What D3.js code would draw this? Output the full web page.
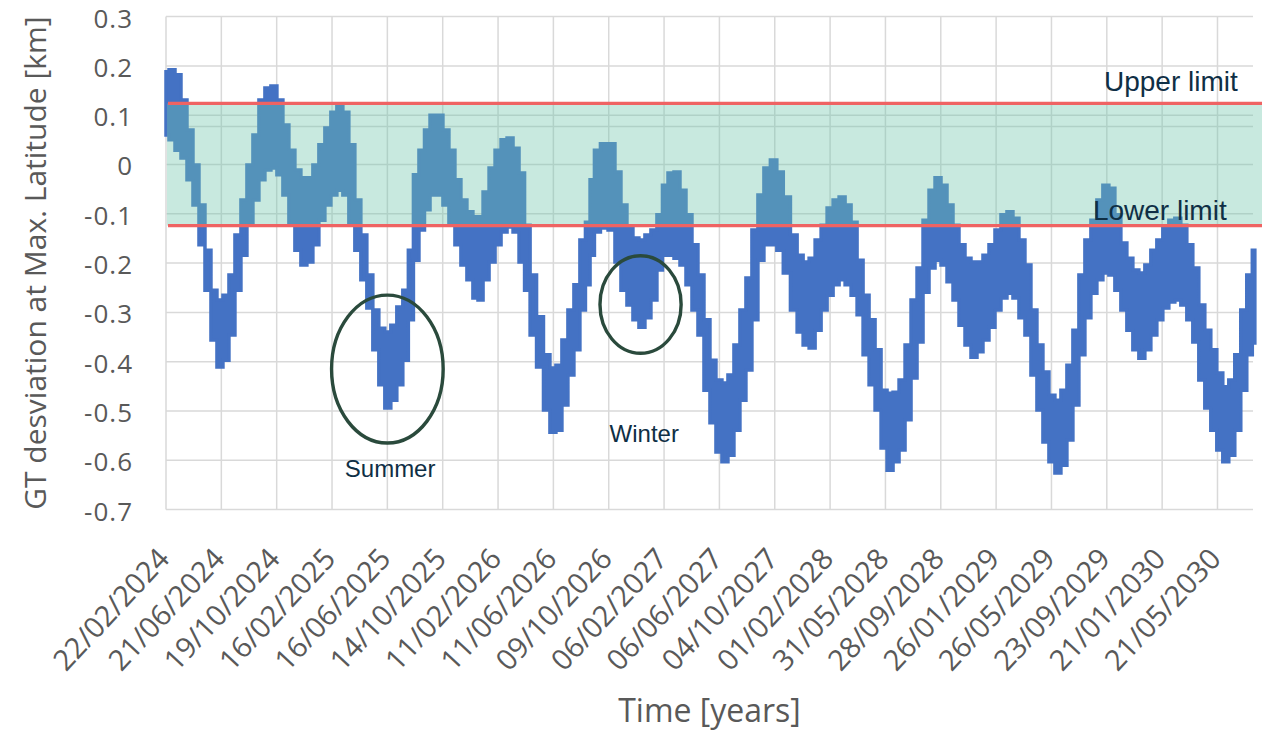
<!DOCTYPE html>
<html>
<head>
<meta charset="utf-8">
<script src="https://cdn.jsdelivr.net/npm/d3@7"></script>
<style>
  html, body { margin: 0; padding: 0; background: #ffffff; }
  svg { display: block; }
</style>
</head>
<body>
<svg id="chart" width="1265" height="730"></svg>
<script>
// ---- data -------------------------------------------------------------
// Axis date labels (every 120 days from the start of the simulation)
const dateLabels = [
  "22/02/2024", "21/06/2024", "19/10/2024", "16/02/2025", "16/06/2025",
  "14/10/2025", "11/02/2026", "11/06/2026", "09/10/2026", "06/02/2027",
  "06/06/2027", "04/10/2027", "01/02/2028", "31/05/2028", "28/09/2028",
  "26/01/2029", "26/05/2029", "23/09/2029", "21/01/2030", "21/05/2030"
];
const yTicks = [0.3, 0.2, 0.1, 0, -0.1, -0.2, -0.3, -0.4, -0.5, -0.6, -0.7];

// Allowed ground-track deviation and an auxiliary reference level [km]
const upperLimit = 0.124;
const lowerLimit = -0.124;
const auxLevel = 0.077;

// Last simulated day (days after the first date label)
const lastDay = 2357;

// GT deviation envelope: days after start, upper and lower extent [km]
const dayOffset = [
  0, 13, 26, 39, 52, 65, 78, 91, 104, 117, 130, 143, 156, 169, 182, 195, 208, 221, 234, 247,
  260, 273, 286, 299, 312, 325, 338, 351, 364, 377, 390, 403, 416, 429, 442, 455, 468, 481, 494, 507,
  520, 531, 542, 555, 566, 579, 594, 607, 620, 633, 646, 659, 672, 681, 694, 707, 720, 733, 746, 759,
  772, 783, 796, 811, 826, 839, 852, 865, 878, 891, 904, 915, 924, 934, 950, 967, 980, 993, 1006, 1019,
  1032, 1045, 1058, 1071, 1082, 1095, 1108, 1121, 1134, 1147, 1160, 1173, 1186, 1199, 1212, 1225, 1238, 1251, 1264, 1277,
  1290, 1303, 1318, 1331, 1346, 1362, 1375, 1388, 1401, 1414, 1427, 1440, 1453, 1466, 1479, 1492, 1505, 1518, 1531, 1544,
  1557, 1570, 1583, 1596, 1609, 1622, 1635, 1648, 1661, 1674, 1687, 1700, 1713, 1726, 1739, 1752, 1765, 1778, 1791, 1804,
  1817, 1830, 1843, 1856, 1869, 1882, 1895, 1908, 1921, 1934, 1947, 1960, 1973, 1986, 1999, 2012, 2025, 2038, 2051, 2064,
  2077, 2090, 2103, 2116, 2129, 2142, 2155, 2168, 2181, 2194, 2207, 2220, 2233, 2246, 2259, 2272, 2285, 2298, 2311, 2324,
  2337, 2350, 2361
];
const gtHigh = [
  0.188, 0.192, 0.182, 0.131, 0.070, -0.001, -0.082, -0.174, -0.255, -0.275, -0.265, -0.224, -0.143, -0.072, -0.001, 0.060, 0.131, 0.155, 0.159, 0.131,
  0.080, 0.029, -0.011, -0.027, -0.027, -0.001, 0.040, 0.074, 0.106, 0.117, 0.106, 0.040, -0.072, -0.143, -0.224, -0.295, -0.332, -0.340, -0.326, -0.289,
  -0.255, -0.174, -0.021, 0.029, 0.070, 0.100, 0.100, 0.070, 0.029, -0.031, -0.072, -0.096, -0.106, -0.106, -0.056, -0.007, 0.029, 0.050, 0.054, 0.033,
  -0.017, -0.123, -0.224, -0.309, -0.386, -0.413, -0.407, -0.356, -0.295, -0.244, -0.153, -0.117, -0.031, 0.029, 0.042, 0.042, -0.015, -0.082, -0.129, -0.149,
  -0.153, -0.143, -0.133, -0.102, -0.042, -0.017, -0.015, -0.052, -0.102, -0.163, -0.224, -0.315, -0.397, -0.437, -0.443, -0.427, -0.366, -0.295, -0.230, -0.133,
  -0.062, -0.007, 0.009, -0.015, -0.066, -0.143, -0.184, -0.198, -0.190, -0.153, -0.123, -0.088, -0.072, -0.066, -0.082, -0.117, -0.194, -0.265, -0.315, -0.376,
  -0.458, -0.464, -0.462, -0.437, -0.366, -0.275, -0.210, -0.113, -0.052, -0.027, -0.042, -0.082, -0.123, -0.163, -0.190, -0.198, -0.198, -0.184, -0.163, -0.133,
  -0.102, -0.096, -0.109, -0.153, -0.204, -0.295, -0.366, -0.421, -0.468, -0.478, -0.458, -0.407, -0.336, -0.224, -0.153, -0.113, -0.072, -0.042, -0.048, -0.102,
  -0.159, -0.190, -0.214, -0.220, -0.204, -0.174, -0.153, -0.129, -0.113, -0.109, -0.123, -0.163, -0.210, -0.285, -0.336, -0.376, -0.423, -0.451, -0.437, -0.386,
  -0.295, -0.224, -0.174
];
const gtLow = [
  0.060, 0.050, 0.029, 0.013, -0.031, -0.082, -0.163, -0.255, -0.356, -0.411, -0.397, -0.346, -0.255, -0.184, -0.123, -0.072, -0.031, -0.011, -0.007, -0.021,
  -0.062, -0.123, -0.174, -0.204, -0.198, -0.163, -0.113, -0.082, -0.062, -0.052, -0.062, -0.117, -0.174, -0.234, -0.291, -0.376, -0.447, -0.494, -0.478, -0.447,
  -0.397, -0.315, -0.194, -0.133, -0.092, -0.062, -0.062, -0.082, -0.123, -0.163, -0.204, -0.234, -0.271, -0.275, -0.234, -0.198, -0.163, -0.137, -0.127, -0.137,
  -0.198, -0.255, -0.346, -0.411, -0.498, -0.543, -0.539, -0.488, -0.427, -0.376, -0.295, -0.244, -0.184, -0.137, -0.129, -0.133, -0.198, -0.255, -0.285, -0.315,
  -0.330, -0.311, -0.275, -0.214, -0.184, -0.184, -0.190, -0.204, -0.244, -0.295, -0.346, -0.458, -0.524, -0.583, -0.603, -0.590, -0.539, -0.478, -0.417, -0.315,
  -0.194, -0.163, -0.163, -0.174, -0.220, -0.295, -0.340, -0.366, -0.372, -0.336, -0.295, -0.265, -0.244, -0.234, -0.244, -0.265, -0.305, -0.386, -0.447, -0.498,
  -0.575, -0.620, -0.603, -0.579, -0.518, -0.433, -0.360, -0.259, -0.210, -0.194, -0.204, -0.238, -0.275, -0.326, -0.366, -0.391, -0.380, -0.356, -0.330, -0.295,
  -0.271, -0.261, -0.271, -0.311, -0.346, -0.427, -0.498, -0.563, -0.603, -0.626, -0.610, -0.559, -0.488, -0.386, -0.311, -0.261, -0.234, -0.220, -0.224, -0.255,
  -0.295, -0.336, -0.376, -0.393, -0.376, -0.346, -0.315, -0.291, -0.279, -0.275, -0.285, -0.315, -0.360, -0.437, -0.494, -0.539, -0.579, -0.603, -0.590, -0.539,
  -0.458, -0.386, -0.362
];

// Seasonal call-outs: ellipse centre (day, km) and half-widths (days, km)
const seasonMarks = [
  { label: "Summer", day: 480, value: -0.415, rDays: 121, rKm: 0.150, labelDay: 486, labelValue: -0.633 },
  { label: "Winter", day: 1029, value: -0.284, rDays: 88, rKm: 0.099, labelDay: 1037, labelValue: -0.563 }
];
// Limit captions, right-aligned at (day, km)
const limitCaptions = [
  { label: "Upper limit", day: 2324, value: 0.150 },
  { label: "Lower limit", day: 2300, value: -0.113 }
];

// ---- layout -----------------------------------------------------------
const svg = d3.select("#chart");
const plot = { left: 166, right: 1253, top: 16.6, bottom: 509.6 };
const parseDate = d3.utcParse("%d/%m/%Y");
const fmtDate = d3.utcFormat("%d/%m/%Y");
const t0 = parseDate(dateLabels[0]);
const dayToDate = d => d3.utcDay.offset(t0, d);

const x = d3.scaleUtc()
  .domain([t0, dayToDate(lastDay)])
  .range([plot.left, plot.right]);
const y = d3.scaleLinear()
  .domain([-0.7, 0.3])
  .range([plot.bottom, plot.top]);

const labelFont = "'Open Sans', 'Liberation Sans', sans-serif";
const noteFont = "'Liberation Sans', Arial, sans-serif";
const gridColor = "#d9d9d9";
const textGray = "#595959";
const noteColor = "#0f2f45";

// ---- grid -------------------------------------------------------------
const grid = svg.append("g");
grid.selectAll("line.h")
  .data(yTicks)
  .join("line")
  .attr("x1", plot.left).attr("x2", plot.right)
  .attr("y1", d => y(d)).attr("y2", d => y(d))
  .attr("stroke", gridColor).attr("stroke-width", 1.5);

const tickDates = dateLabels.map(parseDate);
grid.selectAll("line.v")
  .data(tickDates)
  .join("line")
  .attr("x1", d => x(d)).attr("x2", d => x(d))
  .attr("y1", y(0.3)).attr("y2", y(-0.7))
  .attr("stroke", gridColor).attr("stroke-width", 1.5);

grid.append("line")
  .attr("x1", plot.left).attr("x2", plot.right)
  .attr("y1", y(auxLevel)).attr("y2", y(auxLevel))
  .attr("stroke", gridColor).attr("stroke-width", 1.5);

// ---- GT deviation series (stair-stepped envelope of the fast oscillation)
const series = dayOffset.map((d, i) => ({ date: dayToDate(d), hi: gtHigh[i], lo: gtLow[i] }));
const area = d3.area()
  .x(d => x(d.date))
  .y0(d => y(d.lo))
  .y1(d => y(d.hi))
  .curve(d3.curveStep);
svg.append("path")
  .datum(series)
  .attr("d", area)
  .attr("fill", "#4472c4")
  .attr("stroke", "#4472c4")
  .attr("stroke-width", 3.5)
  .attr("stroke-linejoin", "miter");

// ---- tolerance band ---------------------------------------------------
const bandRight = plot.right + 9;
svg.append("rect")
  .attr("x", plot.left + 1)
  .attr("y", y(upperLimit))
  .attr("width", bandRight - plot.left - 1)
  .attr("height", y(lowerLimit) - y(upperLimit))
  .attr("fill", "rgb(112,198,172)")
  .attr("fill-opacity", 0.385);

svg.selectAll("line.limit")
  .data([upperLimit, lowerLimit])
  .join("line")
  .attr("x1", plot.left + 2).attr("x2", bandRight)
  .attr("y1", d => y(d)).attr("y2", d => y(d))
  .attr("stroke", "#ef6363").attr("stroke-width", 3.4);

// ---- annotations ------------------------------------------------------
seasonMarks.forEach(m => {
  const cx = x(dayToDate(m.day));
  const rx = x(dayToDate(m.day + m.rDays)) - cx;
  const ry = y(m.value - m.rKm) - y(m.value);
  svg.append("ellipse")
    .attr("cx", cx).attr("cy", y(m.value))
    .attr("rx", rx).attr("ry", ry)
    .attr("fill", "none")
    .attr("stroke", "#2a4a3c").attr("stroke-width", 3.4);
  svg.append("text")
    .attr("x", x(dayToDate(m.labelDay)))
    .attr("y", y(m.labelValue))
    .attr("text-anchor", "middle")
    .attr("font-family", noteFont).attr("font-size", 24)
    .attr("fill", noteColor)
    .text(m.label);
});

limitCaptions.forEach(c => {
  svg.append("text")
    .attr("x", x(dayToDate(c.day)))
    .attr("y", y(c.value))
    .attr("text-anchor", "end")
    .attr("font-family", noteFont).attr("font-size", 28)
    .attr("fill", noteColor)
    .text(c.label);
});

// ---- axes labels ------------------------------------------------------
svg.append("g").selectAll("text")
  .data(yTicks)
  .join("text")
  .attr("x", 133)
  .attr("y", d => y(d))
  .attr("dy", "0.42em")
  .attr("text-anchor", "end")
  .attr("font-family", labelFont).attr("font-size", 26)
  .attr("letter-spacing", 1)
  .attr("fill", textGray)
  .text(d => d === 0 ? "0" : d.toFixed(1));

svg.append("g").selectAll("text")
  .data(tickDates)
  .join("text")
  .attr("transform", d => `translate(${x(d) + 5},560) rotate(-47)`)
  .attr("text-anchor", "end")
  .attr("font-family", labelFont).attr("font-size", 29)
  .attr("fill", textGray)
  .text(d => fmtDate(d));

svg.append("text")
  .attr("transform", `translate(46,${(plot.top + plot.bottom) / 2}) rotate(-90)`)
  .attr("text-anchor", "middle")
  .attr("font-family", labelFont).attr("font-size", 30)
  .attr("fill", textGray)
  .text("GT desviation at Max. Latitude [km]");

svg.append("text")
  .attr("x", (plot.left + plot.right) / 2)
  .attr("y", 722)
  .attr("text-anchor", "middle")
  .attr("font-family", labelFont).attr("font-size", 32)
  .attr("fill", textGray)
  .text("Time [years]");
</script>
</body>
</html>
